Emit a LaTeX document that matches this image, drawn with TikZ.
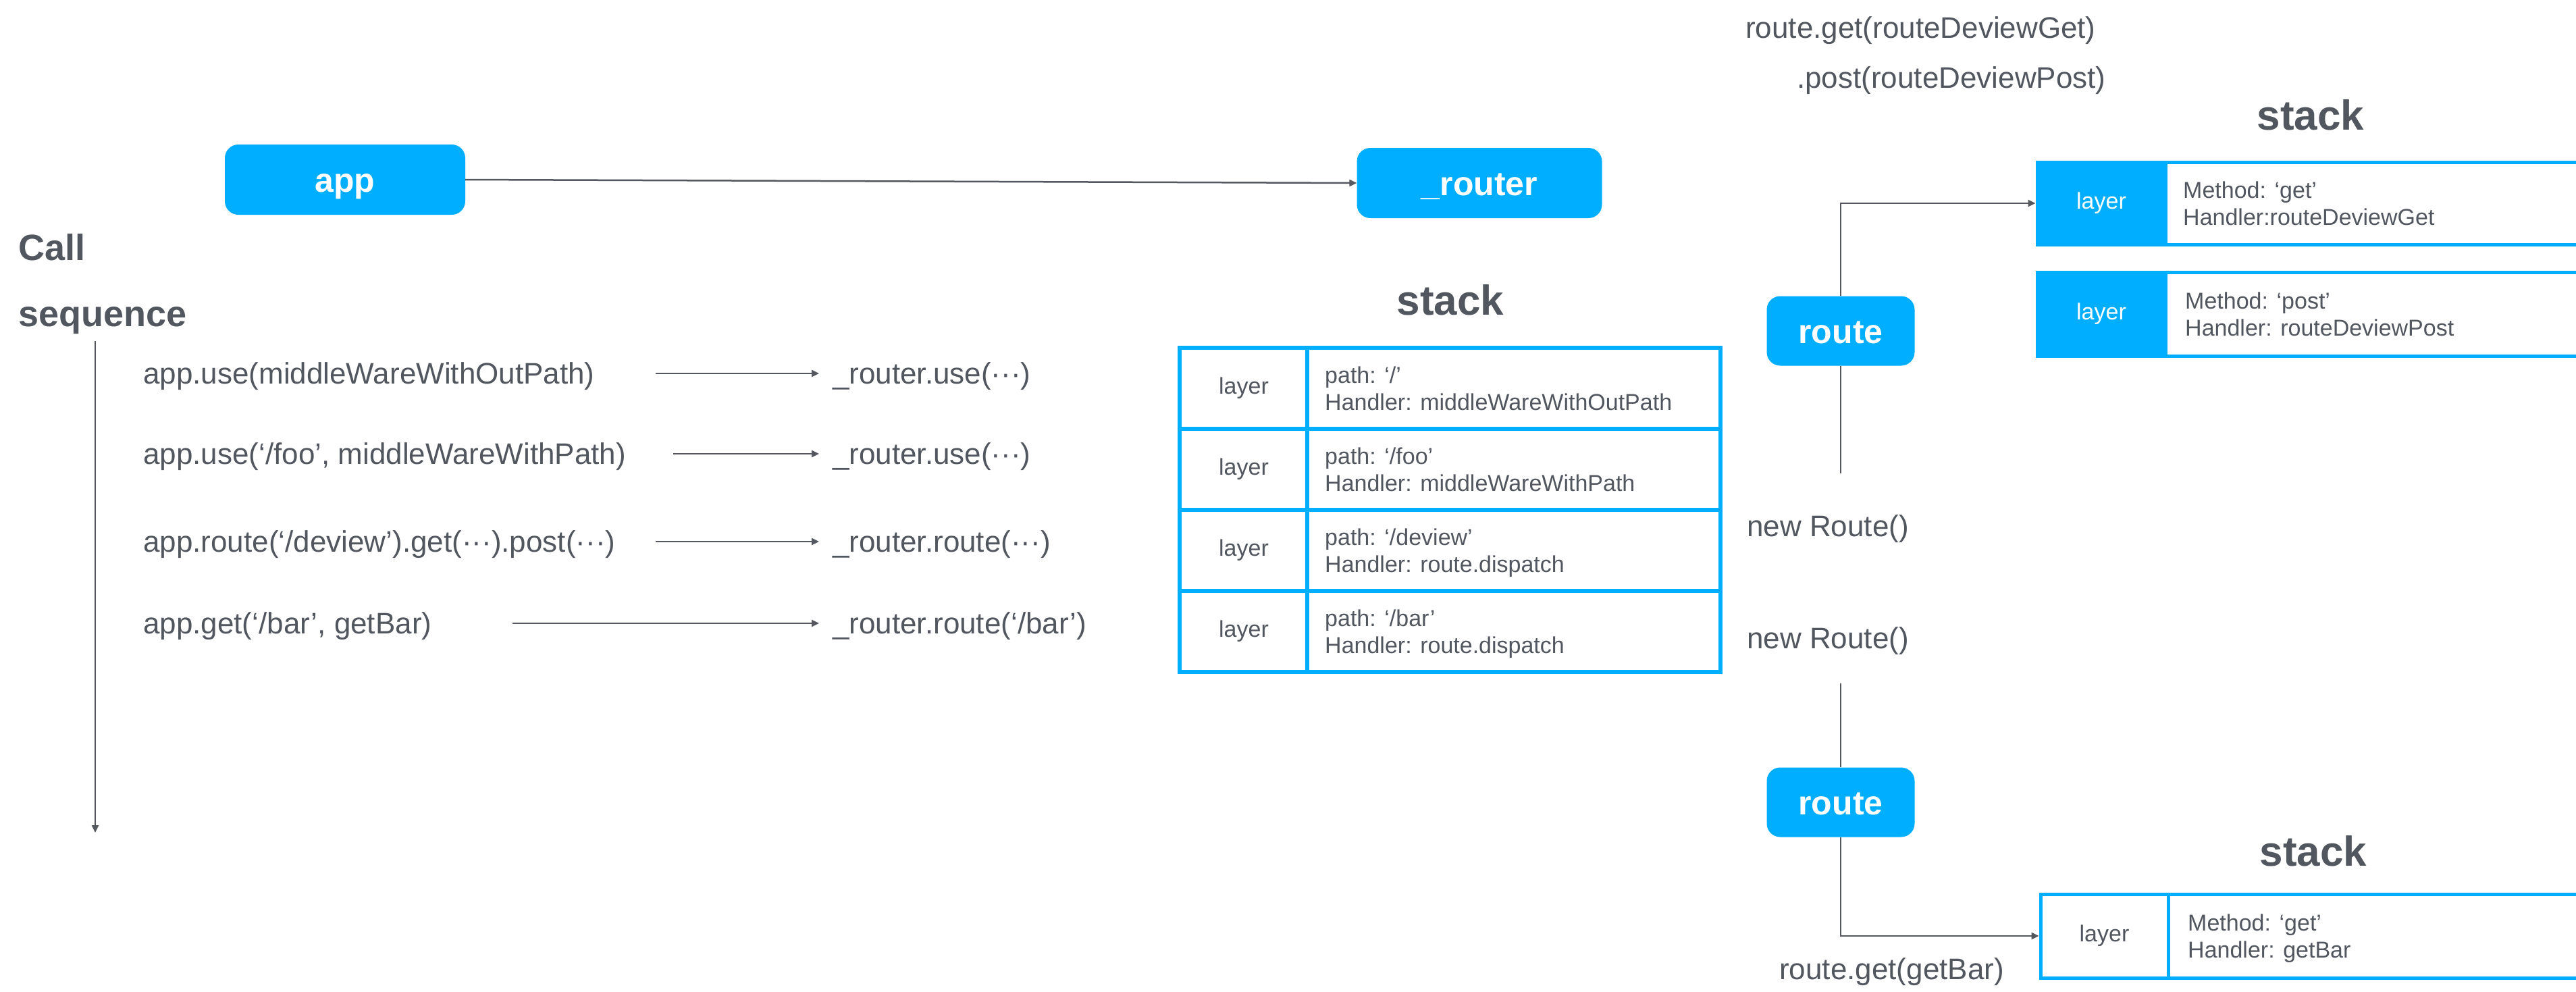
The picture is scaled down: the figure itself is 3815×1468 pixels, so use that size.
\documentclass[tikz,border=0pt]{standalone}
\usepackage{fontspec}
\setmainfont{Liberation Sans}
\usetikzlibrary{arrows.meta,calc}
\definecolor{blu}{RGB}{0,174,255}
\definecolor{txt}{RGB}{82,86,94}
\definecolor{ln}{RGB}{85,88,94}
\tikzset{
  basetxt/.style={text=txt, inner sep=0pt},
  calltxt/.style={basetxt, anchor=base west, font=\fontsize{44}{53}\selectfont},
  celltxt/.style={basetxt, anchor=base west, font=\fontsize{34}{41}\selectfont},
  ttl/.style={basetxt, anchor=base, font=\bfseries\fontsize{62}{70}\selectfont},
  bigttl/.style={basetxt, anchor=base west, font=\bfseries\fontsize{54}{64}\selectfont},
  bbox/.style={fill=blu, rounded corners=20pt, text=white, inner sep=0pt,
    text height=36pt, text depth=0pt,
    font=\bfseries\fontsize{50}{60}\selectfont},
  arr/.style={draw=ln, line width=2.5pt, -{Triangle[length=11pt,width=10pt]}},
  plainln/.style={draw=ln, line width=2.5pt},
  tblline/.style={draw=blu, line width=6pt},
  boxline/.style={draw=blu, line width=5pt},
  layertxt/.style={inner sep=0pt, font=\fontsize{34}{41}\selectfont},
}
\begin{document}
\begin{tikzpicture}[x=1pt,y=-1pt]
\clip (0,0) rectangle (3815,1468);
\fill[white] (0,0) rectangle (3815,1468);

% ---------- app / router ----------
\node[bbox, minimum width=356pt, minimum height=104pt] (app) at (511,266) {app};
\node[bbox, minimum width=363pt, minimum height=104pt] (router) at (2191,271) {\_router};
\draw[arr] (app.east) -- (router.west);

% ---------- call sequence ----------
\node[bigttl] (callA) at (27,385) {Call};
\node[bigttl] (callB) at (27,483) {sequence};
\coordinate (seqtop) at (141,505);
\coordinate (seqbot) at (141,1233);
\draw[arr] (seqtop) -- (seqbot);

\node[calltxt] (c1) at (212,568) {app.use(middleWareWithOutPath)};
\node[calltxt] (c2) at (212,687) {app.use(‘/foo’, middleWareWithPath)};
\node[calltxt] (c3) at (212,817) {app.route(‘/deview’).get(···).post(···)};
\node[calltxt] (c4) at (212,938) {app.get(‘/bar’, getBar)};

\node[calltxt] (r1) at (1233,568) {\_router.use(···)};
\node[calltxt] (r2) at (1233,687) {\_router.use(···)};
\node[calltxt] (r3) at (1233,817) {\_router.route(···)};
\node[calltxt] (r4) at (1233,938) {\_router.route(‘/bar’)};

\coordinate (s1) at (971,553);
\coordinate (s2) at (997,672);
\coordinate (s3) at (971,802);
\coordinate (s4) at (759,923);
\draw[arr, shorten >=20pt] (s1) -- (s1 -| r1.west);
\draw[arr, shorten >=20pt] (s2) -- (s2 -| r2.west);
\draw[arr, shorten >=20pt] (s3) -- (s3 -| r3.west);
\draw[arr, shorten >=20pt] (s4) -- (s4 -| r4.west);

% ---------- middle stack ----------
\node[ttl] (stackM) at (2148,466) {stack};
\draw[tblline] (1747,515) rectangle (2548,995);
\draw[tblline] (1747,635) -- (2548,635);
\draw[tblline] (1747,755) -- (2548,755);
\draw[tblline] (1747,875) -- (2548,875);
\draw[tblline] (1936,515) -- (1936,995);
\node[layertxt, text=txt] (lm1) at (1842,575) {layer};
\node[layertxt, text=txt] (lm2) at (1842,695) {layer};
\node[layertxt, text=txt] (lm3) at (1842,815) {layer};
\node[layertxt, text=txt] (lm4) at (1842,935) {layer};
\node[celltxt] (m1a) at (1962,567) {path: ‘/’};
\node[celltxt] (m1b) at (1962,607) {Handler: middleWareWithOutPath};
\node[celltxt] (m2a) at (1962,687) {path: ‘/foo’};
\node[celltxt] (m2b) at (1962,727) {Handler: middleWareWithPath};
\node[celltxt] (m3a) at (1962,807) {path: ‘/deview’};
\node[celltxt] (m3b) at (1962,847) {Handler: route.dispatch};
\node[celltxt] (m4a) at (1962,927) {path: ‘/bar’};
\node[celltxt] (m4b) at (1962,967) {Handler: route.dispatch};

% ---------- right side top ----------
\node[calltxt] (rg) at (2585,56) {route.get(routeDeviewGet)};
\node[calltxt] (rp) at (2661,130) {.post(routeDeviewPost)};
\node[ttl] (stackT) at (3422,192) {stack};

\draw[boxline] (3017,240) rectangle (3840,362);
\node[layertxt, fill=blu, draw=blu, line width=5pt, text=white,
      minimum width=190pt, minimum height=122pt] (LG) at (3112,301) {layer};
\node[celltxt] (t1a) at (3233,293) {Method: ‘get’};
\node[celltxt] (t1b) at (3233,333) {Handler:routeDeviewGet};

\draw[boxline] (3017,403) rectangle (3840,527);
\node[layertxt, fill=blu, draw=blu, line width=5pt, text=white,
      minimum width=190pt, minimum height=124pt] (LP) at (3112,465) {layer};
\node[celltxt] (t2a) at (3236,457) {Method: ‘post’};
\node[celltxt] (t2b) at (3236,497) {Handler: routeDeviewPost};

\node[bbox, minimum width=219pt, minimum height=103pt] (route1) at (2726,490) {route};
\draw[arr] (route1.north) |- (LG.west);

\node[calltxt] (nr1) at (2587,794) {new Route()};
\node[calltxt] (nr2) at (2587,960) {new Route()};
\coordinate (nr1top) at (2726,701);
\coordinate (nr2bot) at (2726,1012);
\draw[plainln] (route1.south) -- (nr1top);

% ---------- right side bottom ----------
\node[bbox, minimum width=219pt, minimum height=103pt] (route2) at (2726,1188) {route};
\draw[plainln] (nr2bot) -- (route2.north);

\node[ttl] (stackB) at (3426,1282) {stack};
\draw[boxline] (3022,1324) rectangle (3840,1448);
\node[layertxt, draw=blu, line width=5pt, text=txt,
      minimum width=189pt, minimum height=124pt] (LB) at (3116.5,1386) {layer};
\node[celltxt] (b1a) at (3240,1378) {Method: ‘get’};
\node[celltxt] (b1b) at (3240,1418) {Handler: getBar};
\draw[arr] (route2.south) |- (LB.west);
\node[calltxt] (rgb) at (2635,1450) {route.get(getBar)};
\end{tikzpicture}
\end{document}
